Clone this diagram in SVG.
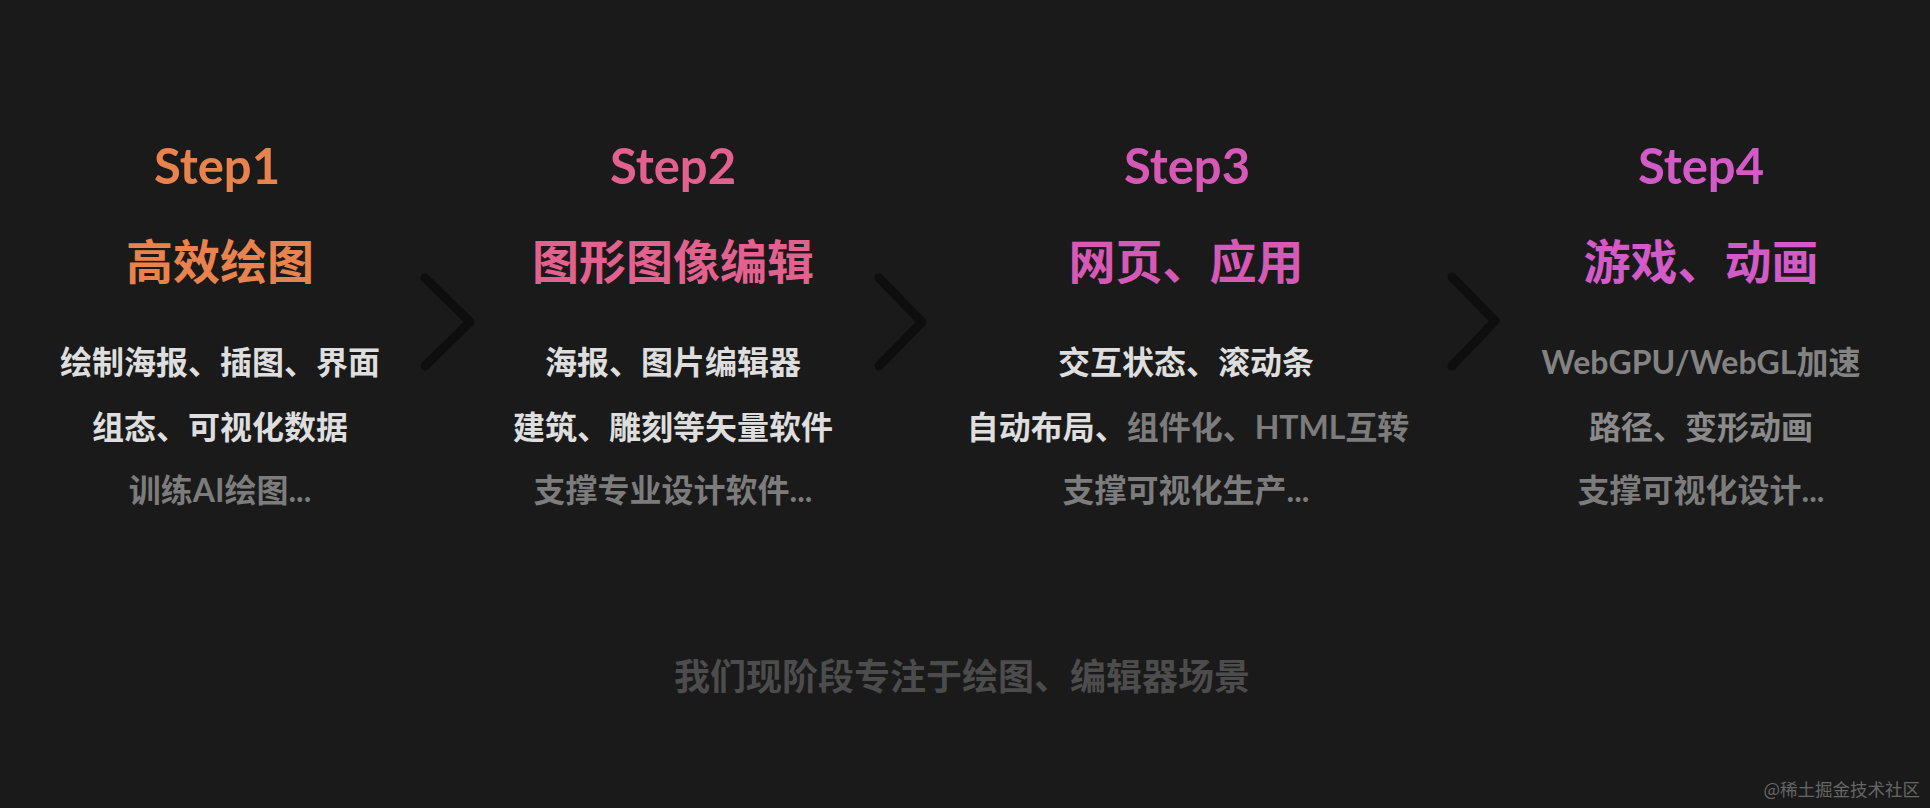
<svg xmlns="http://www.w3.org/2000/svg" width="1930" height="808" viewBox="0 0 1930 808">
<style>
.step{font-family:Lato,"Liberation Sans","Noto Sans CJK SC",sans-serif;font-weight:700;font-size:49px;text-anchor:middle}
.title{font-family:"Noto Sans CJK SC",sans-serif;font-weight:700;font-size:47px;text-anchor:middle}
.body{font-family:Lato,"Noto Sans CJK SC",sans-serif;font-weight:700;font-size:32px;text-anchor:middle}
.hi{fill:#dedede}
.lo{fill:#7c7c7c}
.c1{fill:#e8834e}
.c2{fill:#e2618f}
.c3{fill:#d659b6}
.c4{fill:#d25bc8}
.chev{fill:none;stroke:#0e0e0e;stroke-width:9;stroke-linecap:round;stroke-linejoin:round}
.note{font-family:"Noto Sans CJK SC",sans-serif;font-weight:700;font-size:36px;text-anchor:middle;fill:#4c4c4c}
.wm{font-family:"Noto Sans CJK SC",sans-serif;font-weight:400;font-size:17.5px;text-anchor:end;fill:#666}
</style>
<rect width="1930" height="808" fill="#1a1a1a"/>
<g id="connectors">
<polyline class="chev" points="425,278 470,322 425,366"/>
<polyline class="chev" points="879,278 922,322 879,366"/>
<polyline class="chev" points="1452,277 1495,321 1452,366"/>
</g>
<g id="step1">
<text class="step c1" x="217" y="184">Step1</text>
<text class="title c1" x="220" y="279">高效绘图</text>
<text class="body hi" x="220" y="374">绘制海报、插图、界面</text>
<text class="body hi" x="220" y="439">组态、可视化数据</text>
<text class="body lo" x="220" y="502">训练AI绘图...</text>
</g>
<g id="step2">
<text class="step c2" x="673" y="184">Step2</text>
<text class="title c2" x="673" y="279">图形图像编辑</text>
<text class="body hi" x="673" y="374">海报、图片编辑器</text>
<text class="body hi" x="673" y="439">建筑、雕刻等矢量软件</text>
<text class="body lo" x="673" y="502">支撑专业设计软件...</text>
</g>
<g id="step3">
<text class="step c3" x="1187" y="184">Step3</text>
<text class="title c3" x="1186" y="279">网页、应用</text>
<text class="body hi" x="1186" y="374">交互状态、滚动条</text>
<text class="body" x="1188" y="439"><tspan class="hi">自动布局、</tspan><tspan class="lo">组件化、HTML互转</tspan></text>
<text class="body lo" x="1186" y="502">支撑可视化生产...</text>
</g>
<g id="step4">
<text class="step c4" x="1701" y="184">Step4</text>
<text class="title c4" x="1701" y="279">游戏、动画</text>
<text class="body" x="1701" y="374" style="fill:#838383">WebGPU/WebGL加速</text>
<text class="body" x="1701" y="439" style="fill:#8a8a8a">路径、变形动画</text>
<text class="body lo" x="1701" y="502">支撑可视化设计...</text>
</g>
<g id="note">
<text class="note" x="962" y="690">我们现阶段专注于绘图、编辑器场景</text>
</g>
<text class="wm" x="1920" y="796">@稀土掘金技术社区</text>
</svg>
